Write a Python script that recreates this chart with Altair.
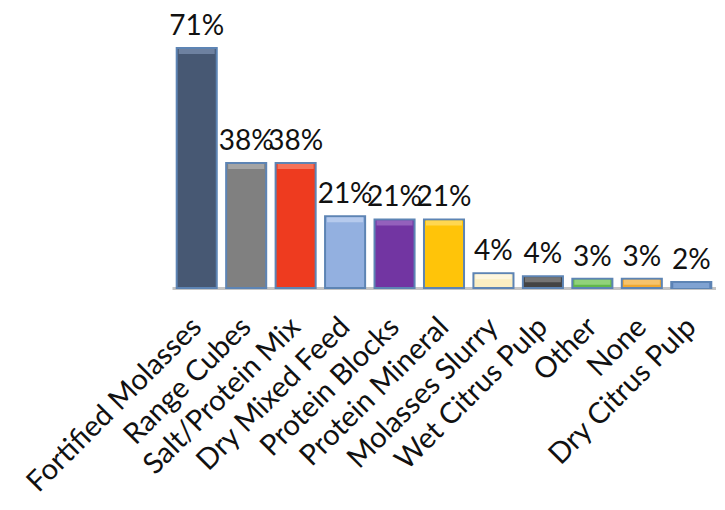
import altair as alt
import pandas as pd

categories = ["Fortified Molasses", "Range Cubes", "Salt/Protein Mix", "Dry Mixed Feed",
              "Protein Blocks", "Protein Mineral", "Molasses Slurry", "Wet Citrus Pulp",
              "Other", "None", "Dry Citrus Pulp"]
values = [71, 37, 37, 21.2, 20.3, 20.3, 4.4, 3.5, 2.7, 2.7, 1.8]
labels = ["71%", "38%", "38%", "21%", "21%", "21%", "4%", "4%", "3%", "3%", "2%"]
colors = ["#475873", "#808080", "#ee3b1f", "#93b0e0", "#7235a2", "#ffc409",
          "#fbeec2", "#444444", "#62b84a", "#f0a830", "#5a80b8"]
bevel = ["#7f93b3", "#b3b3b3", "#f98a70", "#c4d6f2", "#a274c8", "#ffdf70",
         "#fffaea", "#8a8a8a", "#a5dd8e", "#f8cf85", "#8fb0dd"]

df = pd.DataFrame({"cat": categories, "value": values, "label": labels,
                   "color": colors, "bevel": bevel})

FONT = "Lato"

x = alt.X("cat:N", sort=categories, title=None,
          scale=alt.Scale(paddingInner=0.19, paddingOuter=0.095),
          axis=alt.Axis(labelAngle=-45, labelFont=FONT, labelFontSize=29,
                        labelColor="#111111", labelAlign="right", labelBaseline="middle",
                        labelPadding=34, ticks=False, domain=True,
                        domainColor="#c4c4c4", domainWidth=3, labelOverlap=False,
                        labelLimit=400))
y = alt.Y("value:Q", title=None, scale=alt.Scale(domain=[0, 71], nice=False),
          axis=None)

bars = alt.Chart(df).mark_bar(stroke="#5d84b4", strokeWidth=2).encode(
    x=x, y=y, color=alt.Color("color:N", scale=None))

tops = alt.Chart(df).mark_tick(thickness=5, size=36, yOffset=3.5).encode(
    x=x, y=y, color=alt.Color("bevel:N", scale=None))

text = alt.Chart(df).mark_text(font=FONT, fontSize=28, color="#111111",
                               baseline="alphabetic", dy=-13).encode(
    x=x, y=y, text="label:N")

chart = alt.layer(bars, tops, text).properties(
    width=544, height=240,
    background="white",
    autosize=alt.AutoSizeParams(type="none"),
    padding={"left": 164, "top": 40, "right": 0, "bottom": 213},
).configure_view(strokeWidth=0, stroke="transparent")

chart.save("out.html", embed_options={"renderer": "svg", "actions": False})
